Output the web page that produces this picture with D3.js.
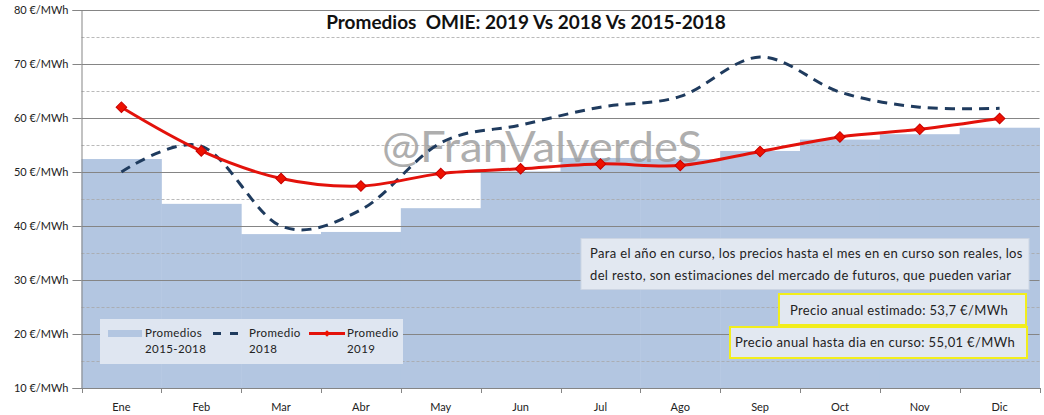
<!DOCTYPE html>
<html><head><meta charset="utf-8">
<script src="https://cdn.jsdelivr.net/npm/d3@7"></script>
<style>body{margin:0;background:#fff}svg{display:block}text{font-family:Lato,"Open Sans",sans-serif;white-space:pre}</style>
</head><body><svg id="c" width="1044" height="415"></svg>
<script>
const months = ["Ene","Feb","Mar","Abr","May","Jun","Jul","Ago","Sep","Oct","Nov","Dic"];
const avg2015_2018 = [52.4, 44.1, 38.5, 38.9, 43.3, 50.1, 52.6, 52.4, 53.9, 56.0, 57.0, 58.2];
const prom2018 = [50.0, 54.8, 40.0, 43.0, 55.4, 58.7, 62.0, 64.0, 71.3, 64.8, 62.0, 61.8];
const prom2019 = [62.0, 53.9, 48.8, 47.4, 49.7, 50.6, 51.5, 51.2, 53.8, 56.5, 57.9, 59.9];
const yTicks = [10,20,30,40,50,60,70,80];
const yMinor = [15,25,35,45,55,65,75];
const title = "Promedios  OMIE: 2019 Vs 2018 Vs 2015-2018";
const legendItems = [["Promedios","2015-2018"],["Promedio","2018"],["Promedio","2019"]];
const noteLines = ["Para el año en curso, los precios hasta el mes en en curso son reales, los","del resto, son estimaciones del mercado de futuros, que pueden variar"];
const noteEst = "Precio anual estimado: 53,7 €/MWh";
const noteHasta = "Precio anual hasta dia en curso: 55,01 €/MWh";

const svg = d3.select("#c");
const L = 81.5, R = 1039.5, T = 10, B = 388;
const x = d3.scaleBand().domain(months).range([L, R]).paddingInner(0).paddingOuter(0);
const y = d3.scaleLinear().domain([10, 80]).range([B, T]);
const cx = m => x(m) + x.bandwidth()/2;

// bars
svg.append("g").selectAll("rect").data(months).join("rect")
  .attr("x", m => x(m)).attr("width", x.bandwidth()+0.5)
  .attr("y", (m,i) => y(avg2015_2018[i])).attr("height", (m,i) => B - y(avg2015_2018[i]))
  .attr("fill", "#b3c6e1");

// gridlines
const g = svg.append("g");
g.selectAll("line.minor").data(yMinor).join("line").attr("class","minor")
  .attr("x1", L).attr("x2", R).attr("y1", d => Math.round(y(d))+0.5).attr("y2", d => Math.round(y(d))+0.5)
  .attr("stroke", "#a9a9a9").attr("stroke-width", 1).attr("stroke-dasharray", "3,2").attr("opacity", 0.8);
g.selectAll("line.major").data(yTicks.filter(v => v > 10)).join("line").attr("class","major")
  .attr("x1", L).attr("x2", R).attr("y1", d => Math.round(y(d))+0.5).attr("y2", d => Math.round(y(d))+0.5)
  .attr("stroke", "#858585").attr("stroke-width", 1);

// axes
const yAxis = d3.axisLeft(y).tickValues(yTicks).tickSize(9).tickPadding(4).tickFormat(d => d + " €/MWh");
const ya = svg.append("g").attr("transform", `translate(${L},0)`).call(yAxis);
ya.select(".domain").attr("stroke", "#858585");
ya.selectAll(".tick line").attr("stroke", "#858585");
ya.selectAll("text").attr("font-size", 11).attr("fill", "#222");

const xa = svg.append("g").attr("transform", `translate(0,${B})`)
  .call(d3.axisBottom(x).tickSize(0).tickPadding(15));
xa.select(".domain").attr("stroke", "#858585");
xa.selectAll("text").attr("font-size", 11).attr("fill", "#222");
svg.append("g").selectAll("line").data(months.concat(["_end"])).join("line")
  .attr("x1", (m,i) => Math.round(L + i*x.bandwidth())+0.5).attr("x2", (m,i) => Math.round(L + i*x.bandwidth())+0.5)
  .attr("y1", B).attr("y2", B+5).attr("stroke", "#858585");

// title
svg.append("text").attr("x", 526).attr("y", 29).attr("text-anchor","middle")
  .attr("font-size", 19).attr("font-weight", "bold").attr("fill","#111").text(title);

// watermark
svg.append("text").attr("x", 382).attr("y", 162).attr("font-size", 43)
  .attr("textLength", 320).attr("lengthAdjust","spacingAndGlyphs")
  .attr("fill", "#9a9a9a").attr("opacity", 0.8).text("@FranValverdeS");

// 2018 dashed line
const line = d3.line().curve(d3.curveCatmullRom.alpha(0));
svg.append("path").attr("d", line(months.map((m,i) => [cx(m), y(prom2018[i])])))
  .attr("fill","none").attr("stroke","#1f3b5e").attr("stroke-width",3).attr("stroke-dasharray","10,7");

// 2019 red line
svg.append("path").attr("d", line(months.map((m,i) => [cx(m), y(prom2019[i])])))
  .attr("fill","none").attr("stroke","#e3120b").attr("stroke-width",3);
const diamond = d3.symbol().type(d3.symbolSquare).size(56);
svg.append("g").selectAll("path").data(months).join("path")
  .attr("transform", (m,i) => `translate(${cx(m)},${y(prom2019[i])}) rotate(45)`)
  .attr("d", diamond).attr("fill","#ee1100").attr("stroke","#c80000").attr("stroke-width",1);

// legend
const lg = svg.append("g");
lg.append("rect").attr("x",100).attr("y",319).attr("width",303).attr("height",45).attr("fill","#dfe6f1");
lg.append("rect").attr("x",108).attr("y",330).attr("width",34).attr("height",7).attr("fill","#b3c6e1");
lg.append("line").attr("x1",213).attr("x2",244).attr("y1",333.5).attr("y2",333.5)
  .attr("stroke","#1f3b5e").attr("stroke-width",3).attr("stroke-dasharray","8,9");
lg.append("line").attr("x1",309).attr("x2",345).attr("y1",333.5).attr("y2",333.5)
  .attr("stroke","#e3120b").attr("stroke-width",3);
lg.append("path").attr("transform","translate(327,333.5) rotate(45)").attr("d", d3.symbol().type(d3.symbolSquare).size(22)).attr("fill","#ee1100");
const lx = [145, 249, 347];
legendItems.forEach((it, i) => {
  it.forEach((t, j) => lg.append("text").attr("x", lx[i]).attr("y", 337 + j*16)
    .attr("font-size", 11.5).attr("letter-spacing", 0.4).attr("fill","#222").text(t));
});

// notes
const nb = svg.append("g");
nb.append("rect").attr("x",581).attr("y",238.5).attr("width",448).attr("height",51)
  .attr("fill","#e2e8f1").attr("stroke","#ccd5e3");
noteLines.forEach((t,i) => nb.append("text").attr("x",590).attr("y",258+i*22)
  .attr("font-size",13).attr("letter-spacing",0.35).attr("fill","#222").text(t));
nb.append("rect").attr("x",779).attr("y",294).attr("width",247).attr("height",31)
  .attr("fill","#e2e8f1").attr("stroke","#f2ee1c").attr("stroke-width",2);
nb.append("text").attr("x",1008).attr("y",315).attr("text-anchor","end").attr("font-size",13).attr("letter-spacing",0.35).attr("fill","#222").text(noteEst);
nb.append("rect").attr("x",730).attr("y",327).attr("width",297).attr("height",31)
  .attr("fill","#e2e8f1").attr("stroke","#f2ee1c").attr("stroke-width",2);
nb.append("text").attr("x",1015).attr("y",347).attr("text-anchor","end").attr("font-size",13).attr("letter-spacing",0.35).attr("fill","#222").text(noteHasta);
</script></body></html>
